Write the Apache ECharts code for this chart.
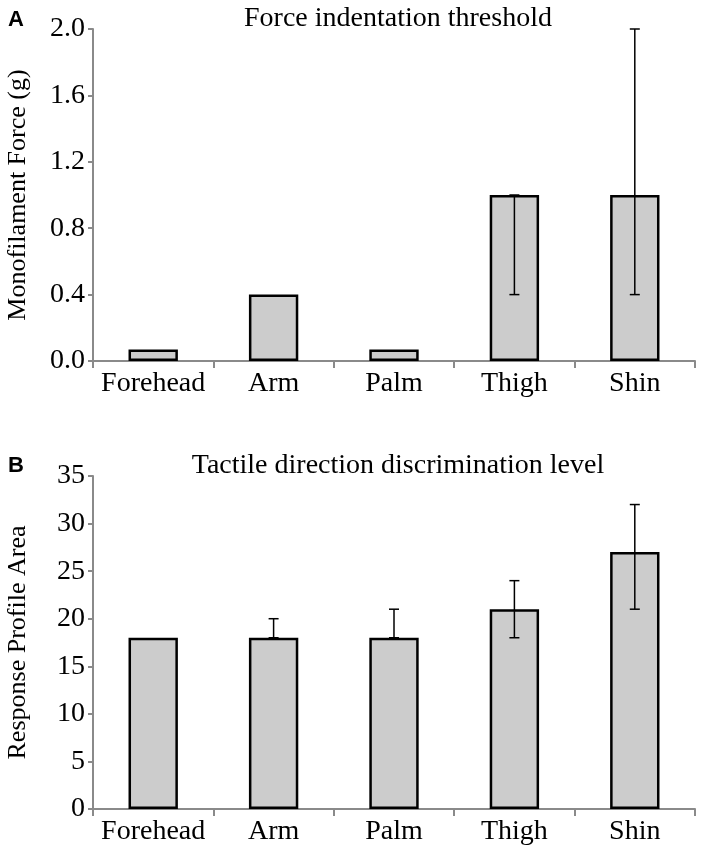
<!DOCTYPE html>
<html>
<head>
<meta charset="utf-8">
<script src="https://cdn.jsdelivr.net/npm/echarts@6/dist/echarts.min.js"></script>
<style>
  html, body { margin: 0; padding: 0; background: #fff; }
  #main { width: 704px; height: 850px; }
</style>
</head>
<body>
<div id="main"></div>
<script>
// data
var sites = ['Forehead', 'Arm', 'Palm', 'Thigh', 'Shin'];

var forceVals = [0.07, 0.4, 0.07, 1.0, 1.0];
var forceErrLow = [null, null, null, 0.4, 0.4];
var forceErrHigh = [null, null, null, 1.0, 2.0];

var areaVals = [18, 18, 18, 21, 27];
var areaErrLow = [null, 18, 18, 18, 21];
var areaErrHigh = [null, 20, 21, 24, 32];

var serif = "'Liberation Serif', 'Times New Roman', serif";

function errData(lo, hi) {
    var out = [];
    for (var i = 0; i < lo.length; i++) {
        if (lo[i] != null) out.push([i, lo[i], hi[i]]);
    }
    return out;
}

function renderErr(params, api) {
    var x = api.value(0);
    var lo = api.coord([x, api.value(1)]);
    var hi = api.coord([x, api.value(2)]);
    var hw = 5;
    var st = { stroke: '#000', lineWidth: 1.5 };
    return {
        type: 'group',
        children: [
            { type: 'line', shape: { x1: lo[0], y1: lo[1], x2: hi[0], y2: hi[1] }, style: st },
            { type: 'line', shape: { x1: hi[0] - hw, y1: hi[1], x2: hi[0] + hw, y2: hi[1] }, style: st },
            { type: 'line', shape: { x1: lo[0] - hw, y1: lo[1], x2: lo[0] + hw, y2: lo[1] }, style: st }
        ]
    };
}

function xAxisOpt(gi) {
    return {
        type: 'category',
        gridIndex: gi,
        data: sites,
        axisLine: { lineStyle: { color: '#8a8a8a', width: 2 } },
        axisTick: { show: true, length: 7, lineStyle: { color: '#8a8a8a', width: 2 } },
        axisLabel: { interval: 0, color: '#000', fontFamily: serif, fontSize: 28, margin: 9 }
    };
}

function yAxisOpt(gi, name, max, interval, digits) {
    return {
        type: 'value',
        gridIndex: gi,
        min: 0,
        max: max,
        interval: interval,
        name: name,
        nameLocation: 'middle',
        nameGap: 62,
        nameTextStyle: { color: '#000', fontFamily: serif, fontSize: 26 },
        axisLine: { show: true, lineStyle: { color: '#8a8a8a', width: 2 } },
        axisTick: { show: true, length: 5, lineStyle: { color: '#8a8a8a', width: 2 } },
        splitLine: { show: false },
        axisLabel: {
            color: '#000', fontFamily: serif, fontSize: 28, margin: 8,
            formatter: function (v) { return v.toFixed(digits); }
        }
    };
}

var barStyle = { color: '#cccccc', borderColor: '#000', borderWidth: 2.5 };

var chart = echarts.init(document.getElementById('main'));

var option = {
    animation: false,
    backgroundColor: '#fff',
    title: [
        { text: 'A', left: 3, top: 4, textStyle: { fontFamily: 'Liberation Sans, Arial', fontWeight: 'bold', fontSize: 22, color: '#000' } },
        { text: 'Force indentation threshold', left: 393, textAlign: 'center', top: 0, textStyle: { fontFamily: serif, fontWeight: 'normal', fontSize: 28, color: '#000' } },
        { text: 'B', left: 3, top: 450, textStyle: { fontFamily: 'Liberation Sans, Arial', fontWeight: 'bold', fontSize: 22, color: '#000' } },
        { text: 'Tactile direction discrimination level', left: 393, textAlign: 'center', top: 447, textStyle: { fontFamily: serif, fontWeight: 'normal', fontSize: 28, color: '#000' } }
    ],
    grid: [
        { left: 93, right: 9, top: 29, height: 332, outerBoundsMode: 'none' },
        { left: 93, right: 9, top: 476, height: 333, outerBoundsMode: 'none' }
    ],
    xAxis: [xAxisOpt(0), xAxisOpt(1)],
    yAxis: [
        yAxisOpt(0, 'Monofilament Force (g)', 2.0, 0.4, 1),
        yAxisOpt(1, 'Response Profile Area', 35, 5, 0)
    ],
    series: [
        { type: 'bar', xAxisIndex: 0, yAxisIndex: 0, data: forceVals, barWidth: '41%', itemStyle: barStyle },
        { type: 'custom', xAxisIndex: 0, yAxisIndex: 0, data: errData(forceErrLow, forceErrHigh), renderItem: renderErr, z: 5 },
        { type: 'bar', xAxisIndex: 1, yAxisIndex: 1, data: areaVals, barWidth: '41%', itemStyle: barStyle },
        { type: 'custom', xAxisIndex: 1, yAxisIndex: 1, data: errData(areaErrLow, areaErrHigh), renderItem: renderErr, z: 5 }
    ]
};

chart.setOption(option);
</script>
</body>
</html>
